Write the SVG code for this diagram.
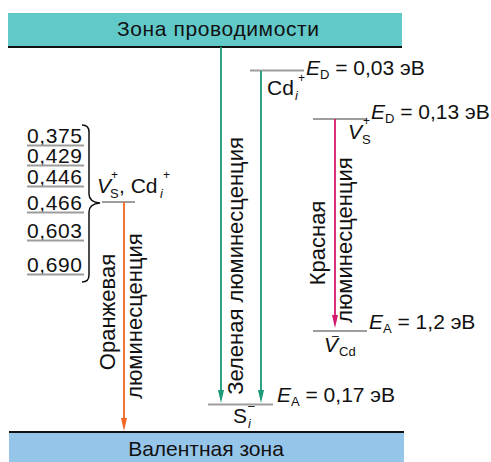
<svg xmlns="http://www.w3.org/2000/svg" width="491" height="462" viewBox="0 0 491 462">
  <style>
    text { font-family: "Liberation Sans", Arial, sans-serif; fill: #111; }
    .band { font-size: 21px; text-anchor: middle; }
    .lbl { font-size: 21px; }
    .val { font-size: 21px; }
    .sub { font-size: 13px; }
    .sup { font-size: 12px; }
    .it { font-style: italic; }
    .vert { font-size: 22px; text-anchor: middle; }
    .level { stroke: #9d9d9d; stroke-width: 2; fill: none; }
    .edge { stroke: #111; stroke-width: 2; }
  </style>
  <defs>
    <marker id="ah-green" markerUnits="userSpaceOnUse" markerWidth="14" markerHeight="7" refX="8" refY="3.5" orient="auto">
      <path d="M0,0.5 L13,3.5 L0,6.5 Z" fill="#1a9a78"/>
    </marker>
    <marker id="ah-orange" markerUnits="userSpaceOnUse" markerWidth="14" markerHeight="7" refX="8" refY="3.5" orient="auto">
      <path d="M0,0.5 L13,3.5 L0,6.5 Z" fill="#f26522"/>
    </marker>
    <marker id="ah-red" markerUnits="userSpaceOnUse" markerWidth="14" markerHeight="7" refX="8" refY="3.5" orient="auto">
      <path d="M0,0.5 L13,3.5 L0,6.5 Z" fill="#d6186f"/>
    </marker>
  </defs>

  <!-- conduction band -->
  <g id="conduction-band">
    <rect x="8" y="13" width="394" height="34" fill="#62c9c9"/>
    <line class="edge" x1="8" y1="47" x2="402" y2="47"/>
    <text class="band" x="218" y="36" textLength="202" lengthAdjust="spacing">Зона проводимости</text>
  </g>

  <!-- valence band -->
  <g id="valence-band">
    <rect x="9" y="432" width="395" height="30" fill="#96c5ea"/>
    <line class="edge" x1="9" y1="432" x2="404" y2="432"/>
    <text class="band" x="206" y="456">Валентная зона</text>
  </g>

  <!-- Cd_i+ donor level -->
  <g id="level-cd">
    <line class="level" x1="250" y1="70.5" x2="304" y2="70.5"/>
    <text class="lbl" x="306" y="75"><tspan class="it">E</tspan><tspan class="sub" dy="4">D</tspan><tspan dy="-4"> = 0,03 эВ</tspan></text>
    <text class="lbl" x="267" y="95">Cd</text>
    <text class="sub it" x="295" y="100">i</text>
    <text class="sup" x="298" y="82">+</text>
  </g>

  <!-- V_S+ donor level -->
  <g id="level-vs">
    <line class="level" x1="313" y1="119" x2="367" y2="119"/>
    <text class="lbl" x="371" y="119"><tspan class="it">E</tspan><tspan class="sub" dy="4">D</tspan><tspan dy="-4"> = 0,13 эВ</tspan></text>
    <text class="lbl it" x="348" y="139">V</text>
    <text class="sub" x="362" y="144">S</text>
    <text class="sup" x="363" y="125">+</text>
  </g>

  <!-- V_Cd- acceptor level -->
  <g id="level-vcd">
    <line class="level" x1="313" y1="331" x2="367" y2="331"/>
    <text class="lbl" x="369" y="329"><tspan class="it">E</tspan><tspan class="sub" dy="4">A</tspan><tspan dy="-4"> = 1,2 эВ</tspan></text>
    <text class="lbl it" x="324" y="352">V</text>
    <text class="sup" x="332" y="340">–</text>
    <text class="sub" x="339" y="356" font-size="14">Cd</text>
  </g>

  <!-- S_i- acceptor level -->
  <g id="level-si">
    <line class="level" x1="208" y1="404.5" x2="273" y2="404.5"/>
    <text class="lbl" x="277" y="402"><tspan class="it">E</tspan><tspan class="sub" dy="4">A</tspan><tspan dy="-4"> = 0,17 эВ</tspan></text>
    <text class="lbl" x="233" y="423">S</text>
    <text class="sub it" x="248" y="428">i</text>
    <text class="sup" x="248" y="410">–</text>
  </g>

  <!-- V_S+, Cd_i+ level with its set of energies -->
  <g id="level-orange">
    <line class="level" x1="102" y1="202" x2="135" y2="202"/>
    <text class="lbl" x="97" y="193"><tspan class="it">V</tspan></text>
    <text class="sub" x="110" y="198">S</text>
    <text class="sup" x="111" y="179">+</text>
    <text class="lbl" x="119" y="193">, Cd</text>
    <text class="sub it" x="160" y="198">i</text>
    <text class="sup" x="163" y="179">+</text>
    <path d="M82,125 Q89,125 89,132 L89,194 Q89,202 100,203 Q89,204 89,212 L89,275 Q89,282 82,282" fill="none" stroke="#111" stroke-width="1.5"/>
    <g class="val">
      <text x="27" y="143" textLength="55">0,375</text>
      <text x="27" y="163" textLength="55">0,429</text>
      <text x="27" y="184" textLength="55">0,446</text>
      <text x="27" y="210" textLength="55">0,466</text>
      <text x="27" y="238" textLength="55">0,603</text>
      <text x="27" y="272" textLength="55">0,690</text>
    </g>
    <g class="level">
      <line x1="27" y1="145.5" x2="84" y2="145.5"/>
      <line x1="27" y1="165.5" x2="84" y2="165.5"/>
      <line x1="27" y1="186.5" x2="84" y2="186.5"/>
      <line x1="27" y1="212.5" x2="84" y2="212.5"/>
      <line x1="27" y1="240.5" x2="84" y2="240.5"/>
      <line x1="27" y1="274.5" x2="84" y2="274.5"/>
    </g>
  </g>

  <!-- transitions -->
  <g id="connectors">
    <line x1="221" y1="47" x2="221" y2="398" stroke="#1a9a78" stroke-width="1.8" marker-end="url(#ah-green)"/>
    <line x1="261" y1="71" x2="261" y2="398" stroke="#1a9a78" stroke-width="1.8" marker-end="url(#ah-green)"/>
    <line x1="335" y1="119" x2="335" y2="323" stroke="#d6186f" stroke-width="1.8" marker-end="url(#ah-red)"/>
    <line x1="124" y1="202" x2="124" y2="426" stroke="#f26522" stroke-width="1.8" marker-end="url(#ah-orange)"/>
  </g>

  <!-- transition labels -->
  <g id="labels">
    <text class="vert" transform="translate(243,266) rotate(-90)">Зеленая люминесценция</text>
    <text class="vert" transform="translate(115,312) rotate(-90)">Оранжевая</text>
    <text class="vert" transform="translate(142,316) rotate(-90)">люминесценция</text>
    <text class="vert" transform="translate(325,243) rotate(-90)">Красная</text>
    <text class="vert" transform="translate(352,240) rotate(-90)">люминесценция</text>
  </g>
</svg>
